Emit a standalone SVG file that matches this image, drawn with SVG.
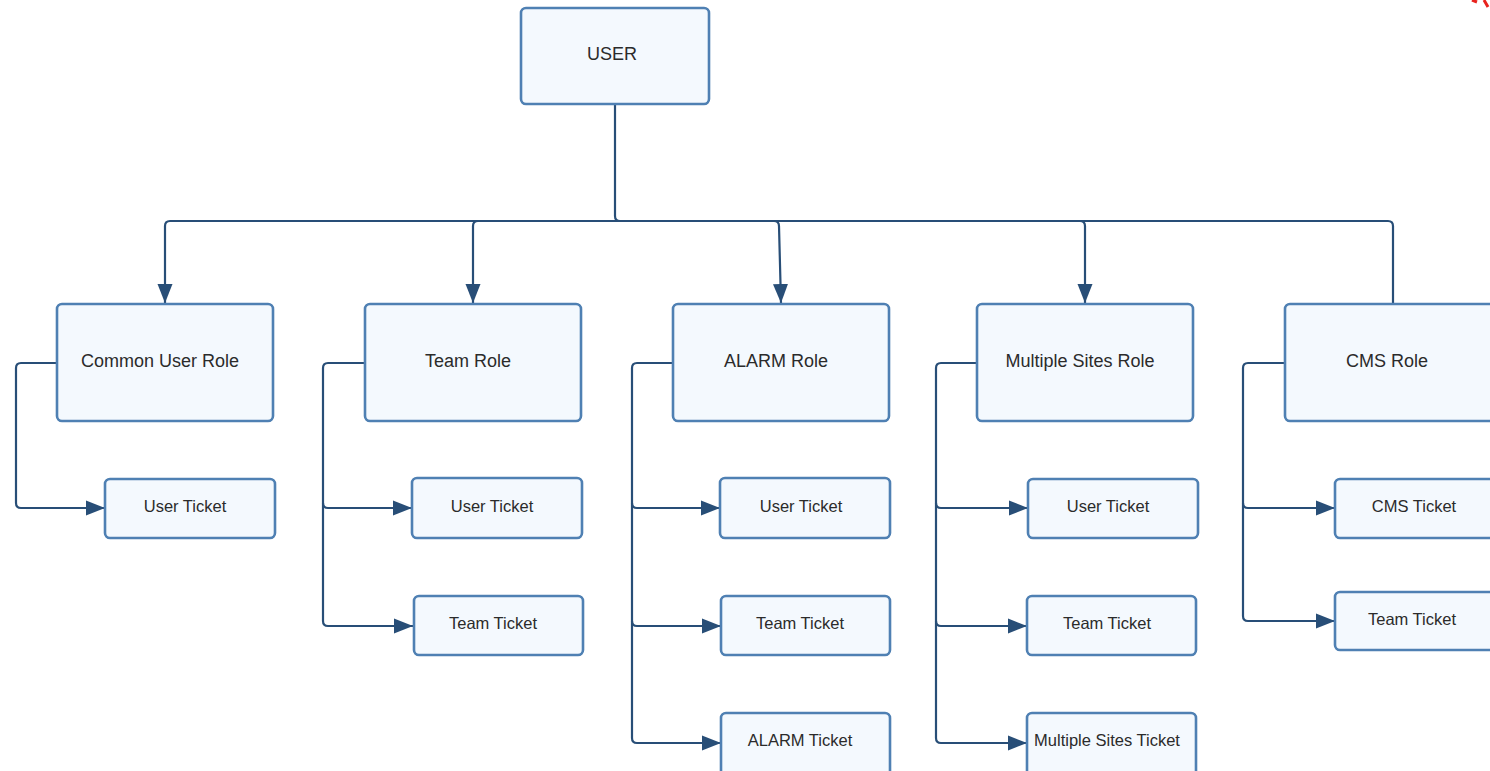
<svg xmlns="http://www.w3.org/2000/svg" width="1490" height="771" viewBox="0 0 1490 771">
<style>
.box{fill:#f4f9fe;stroke:#4f80b3;stroke-width:2.6}
.lbl{font-family:"Liberation Sans",Arial,sans-serif;fill:#2b2b2b;text-anchor:middle}
.role{font-size:18px}
.tk{font-size:16.5px}
.top{font-size:18px}
.ln{fill:none;stroke:#284e77;stroke-width:2.2;stroke-linejoin:round}
</style>
<defs>
<marker id="ah" markerUnits="userSpaceOnUse" markerWidth="22" markerHeight="22" viewBox="0 0 22 22" refX="19" refY="11" orient="auto">
<path d="M0,3.5 L19,11 L0,18.5 Z" fill="#284e77"/>
</marker>
</defs>
<rect width="1490" height="771" fill="#ffffff"/>
<g id="connectors">
<path class="ln" d="M615,104 V216 Q615,221 620,221"/>
<path class="ln" d="M170,221 H1388 Q1393,221 1393,226 V304"/>
<path class="ln" d="M170,221 Q165,221 165,226 V303" marker-end="url(#ah)"/>
<path class="ln" d="M473,226 Q473,221 478,221 M473,226 V303" marker-end="url(#ah)"/>
<path class="ln" d="M779,226 Q779,221 774,221 M779,226 L781,303" marker-end="url(#ah)"/>
<path class="ln" d="M1085,226 Q1085,221 1080,221 M1085,226 V303" marker-end="url(#ah)"/>
<path class="ln" d="M57,363 H21 Q16,363 16,368 V503 Q16,508 21,508 H105" marker-end="url(#ah)"/>
<path class="ln" d="M365,363 H328 Q323,363 323,368 V621 Q323,626 328,626 H413" marker-end="url(#ah)"/>
<path class="ln" d="M323,503 Q323,508 328,508 H412" marker-end="url(#ah)"/>
<path class="ln" d="M673,363 H637 Q632,363 632,368 V738 Q632,743 637,743 H721" marker-end="url(#ah)"/>
<path class="ln" d="M632,503 Q632,508 637,508 H720" marker-end="url(#ah)"/>
<path class="ln" d="M632,621 Q632,626 637,626 H721" marker-end="url(#ah)"/>
<path class="ln" d="M977,363 H941 Q936,363 936,368 V738 Q936,743 941,743 H1027" marker-end="url(#ah)"/>
<path class="ln" d="M936,503 Q936,508 941,508 H1028" marker-end="url(#ah)"/>
<path class="ln" d="M936,621 Q936,626 941,626 H1027" marker-end="url(#ah)"/>
<path class="ln" d="M1285,363 H1248 Q1243,363 1243,368 V616 Q1243,621 1248,621 H1335" marker-end="url(#ah)"/>
<path class="ln" d="M1243,503 Q1243,508 1248,508 H1335" marker-end="url(#ah)"/>
</g>
<g id="user"><rect class="box" x="521" y="8" width="188" height="96" rx="5"/><text class="lbl top" x="612" y="60">USER</text></g>
<g id="common-role"><rect class="box" x="57" y="304" width="216" height="117" rx="5"/><text class="lbl role" x="160" y="367">Common User Role</text></g>
<g id="team-role"><rect class="box" x="365" y="304" width="216" height="117" rx="5"/><text class="lbl role" x="468" y="367">Team Role</text></g>
<g id="alarm-role"><rect class="box" x="673" y="304" width="216" height="117" rx="5"/><text class="lbl role" x="776" y="367">ALARM Role</text></g>
<g id="multi-role"><rect class="box" x="977" y="304" width="216" height="117" rx="5"/><text class="lbl role" x="1080" y="367">Multiple Sites Role</text></g>
<g id="cms-role"><rect class="box" x="1285" y="304" width="216" height="117" rx="5"/><text class="lbl role" x="1387" y="367">CMS Role</text></g>
<g id="common-user-ticket"><rect class="box" x="105" y="479" width="170" height="59" rx="5"/><text class="lbl tk" x="185" y="512">User Ticket</text></g>
<g id="team-user-ticket"><rect class="box" x="412" y="478" width="170" height="60" rx="5"/><text class="lbl tk" x="492" y="512">User Ticket</text></g>
<g id="team-team-ticket"><rect class="box" x="414" y="596" width="169" height="59" rx="5"/><text class="lbl tk" x="493" y="629">Team Ticket</text></g>
<g id="alarm-user-ticket"><rect class="box" x="720" y="478" width="170" height="60" rx="5"/><text class="lbl tk" x="801" y="512">User Ticket</text></g>
<g id="alarm-team-ticket"><rect class="box" x="721" y="596" width="169" height="59" rx="5"/><text class="lbl tk" x="800" y="629">Team Ticket</text></g>
<g id="alarm-alarm-ticket"><rect class="box" x="721" y="713" width="169" height="70" rx="5"/><text class="lbl tk" x="800" y="746">ALARM Ticket</text></g>
<g id="multi-user-ticket"><rect class="box" x="1028" y="479" width="170" height="59" rx="5"/><text class="lbl tk" x="1108" y="512">User Ticket</text></g>
<g id="multi-team-ticket"><rect class="box" x="1027" y="596" width="169" height="59" rx="5"/><text class="lbl tk" x="1107" y="629">Team Ticket</text></g>
<g id="multi-multi-ticket"><rect class="box" x="1027" y="713" width="169" height="70" rx="5"/><text class="lbl tk" x="1107" y="746">Multiple Sites Ticket</text></g>
<g id="cms-cms-ticket"><rect class="box" x="1335" y="479" width="170" height="59" rx="5"/><text class="lbl tk" x="1414" y="512">CMS Ticket</text></g>
<g id="cms-team-ticket"><rect class="box" x="1335" y="592" width="170" height="58" rx="5"/><text class="lbl tk" x="1412" y="625">Team Ticket</text></g>
<path d="M1472,0 L1477,2 M1484,0 L1488,7" stroke="#e8231e" stroke-width="3" fill="none"/>
</svg>
